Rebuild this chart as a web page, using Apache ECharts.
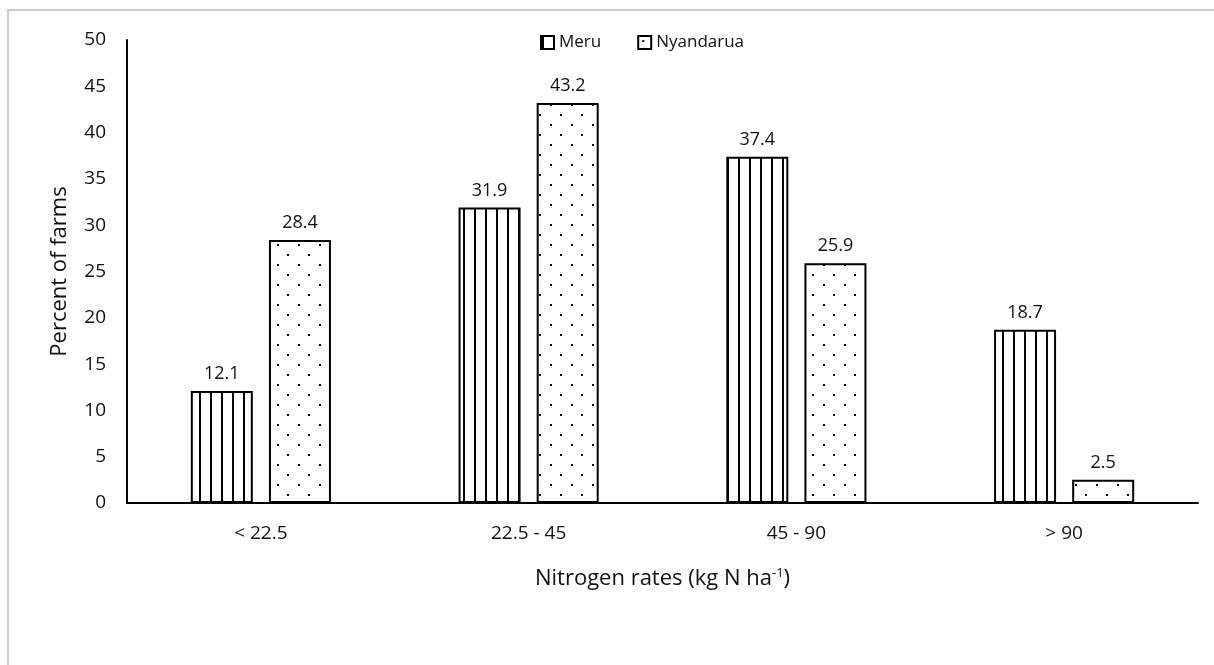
<!DOCTYPE html>
<html>
<head>
<meta charset="utf-8">
<script src="https://cdn.jsdelivr.net/npm/echarts@6/dist/echarts.min.js"></script>
<style>
  html, body { margin: 0; padding: 0; background: #fff; }
  #chart { width: 1214px; height: 665px; }
</style>
</head>
<body>
<div id="chart"></div>
<script>
// Nitrogen application rate classes (kg N ha-1)
const categories = ['< 22.5', '22.5 - 45', '45 - 90', '> 90'];
// Percent of farms in each class
const meru = [12.1, 31.9, 37.4, 18.7];
const nyandarua = [28.4, 43.2, 25.9, 2.5];
const seriesNames = ['Meru', 'Nyandarua'];

const FONT = '"Open Sans", "Noto Sans", sans-serif';

// Vertical stripe fill
function stripePattern() {
  const c = document.createElement('canvas');
  c.width = 11; c.height = 4;
  const ctx = c.getContext('2d');
  ctx.fillStyle = '#fff';
  ctx.fillRect(0, 0, c.width, c.height);
  ctx.fillStyle = '#000';
  ctx.fillRect(1, 0, 2, c.height);
  return c;
}

// Staggered dot fill
function dotPattern() {
  const c = document.createElement('canvas');
  c.width = 21; c.height = 20;
  const ctx = c.getContext('2d');
  ctx.fillStyle = '#fff';
  ctx.fillRect(0, 0, c.width, c.height);
  ctx.fillStyle = '#000';
  ctx.fillRect(4, 4, 2, 2);
  ctx.fillRect(14, 14, 2, 2);
  return c;
}

const chart = echarts.init(document.getElementById('chart'), null, { renderer: 'canvas' });

const labelCfg = {
  show: true,
  position: 'top',
  distance: 8,
  color: '#111',
  fontSize: 18,
  fontFamily: FONT
};

chart.setOption({
  backgroundColor: '#fff',
  animation: false,
  graphic: [{
    type: 'rect',
    silent: true,
    shape: { x: 8, y: 10, width: 1400, height: 900 },
    style: { fill: 'none', stroke: '#cdcdcd', lineWidth: 2 }
  }],
  legend: {
    top: 29,
    left: 535,
    itemWidth: 13,
    itemHeight: 13,
    itemGap: 36,
    itemStyle: { borderWidth: 2 },
    icon: 'rect',
    textStyle: { fontSize: 17, color: '#111', fontFamily: FONT },
    data: seriesNames
  },
  grid: { left: 127, right: 16, top: 40, bottom: 162, containLabel: false },
  xAxis: {
    type: 'category',
    data: categories,
    axisLine: { lineStyle: { color: '#000', width: 2 } },
    axisTick: { show: false },
    axisLabel: { fontSize: 19, color: '#111', fontFamily: FONT, margin: 21 },
    name: '{t|Nitrogen rates (kg N ha}{s|-1}{t|)}',
    nameLocation: 'middle',
    nameGap: 64,
    nameTextStyle: {
      rich: {
        t: { fontSize: 22, color: '#111', fontFamily: FONT },
        s: { fontSize: 13, color: '#111', fontFamily: FONT, verticalAlign: 'top', padding: [0, 0, 10, 0] }
      }
    }
  },
  yAxis: {
    type: 'value',
    min: 0,
    max: 50,
    interval: 5,
    splitLine: { show: false },
    axisLine: { show: true, lineStyle: { color: '#000', width: 2 } },
    axisTick: { show: false },
    axisLabel: { fontSize: 19, color: '#111', fontFamily: FONT, margin: 21 },
    name: 'Percent of farms',
    nameLocation: 'middle',
    nameGap: 56,
    nameTextStyle: { fontSize: 22, color: '#111', fontFamily: FONT }
  },
  series: [
    {
      name: seriesNames[0],
      type: 'bar',
      data: meru,
      barWidth: 62,
      barGap: '26%',
      itemStyle: {
        color: { image: stripePattern(), repeat: 'repeat' },
        borderColor: '#000',
        borderWidth: 2
      },
      label: labelCfg
    },
    {
      name: seriesNames[1],
      type: 'bar',
      data: nyandarua,
      barWidth: 62,
      barGap: '26%',
      itemStyle: {
        color: { image: dotPattern(), repeat: 'repeat' },
        borderColor: '#000',
        borderWidth: 2
      },
      label: labelCfg
    }
  ]
});
</script>
</body>
</html>
